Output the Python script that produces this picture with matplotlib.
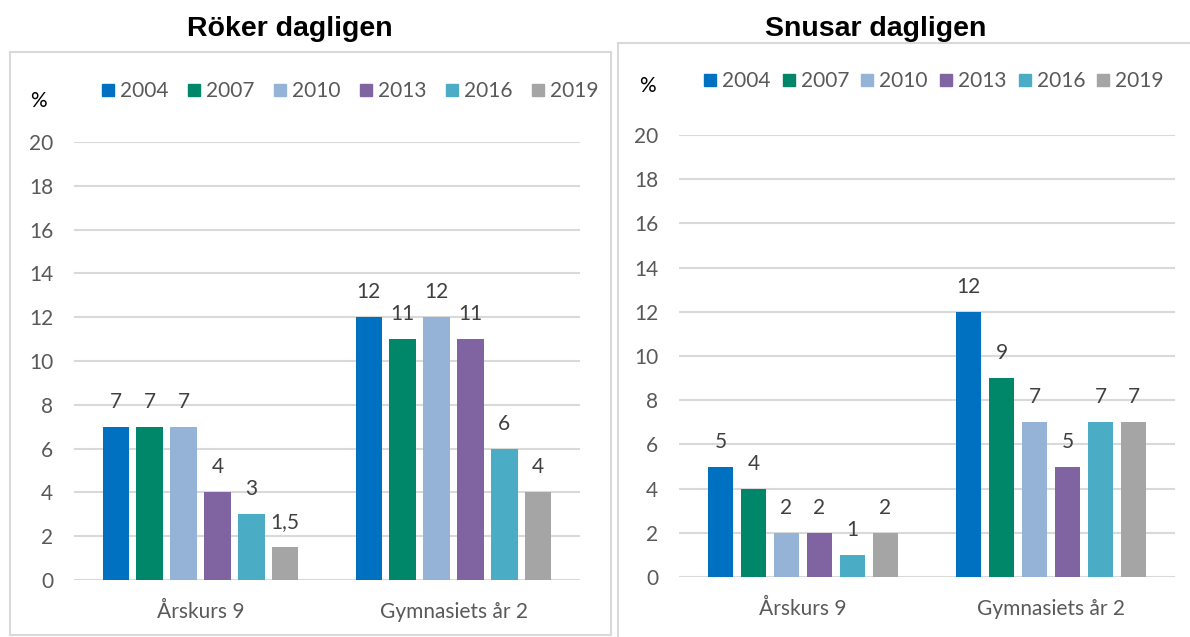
import matplotlib.pyplot as plt
from matplotlib.patches import Rectangle
from matplotlib.lines import Line2D
import numpy as np

# --- DATA ---
categories = ["Årskurs 9", "Gymnasiets år 2"]
years = ["2004", "2007", "2010", "2013", "2016", "2019"]
colors = ["#0070C0", "#00876A", "#95B3D7", "#8064A2", "#4BACC6", "#A5A5A5"]

roker_ak9 = [7, 7, 7, 4, 3, 1.5]
roker_gy2 = [12, 11, 12, 11, 6, 4]
snus_ak9 = [5, 4, 2, 2, 1, 2]
snus_gy2 = [12, 9, 7, 5, 7, 7]

yticks = [0, 2, 4, 6, 8, 10, 12, 14, 16, 18, 20]

W, H = 1190, 637
TICK_COLOR = "#595959"
LABEL_COLOR = "#404040"
GRID_COLOR = "#d9d9d9"
FONT = "Lato"
FS = 15


def fmt(v):
    s = f"{v:g}"
    return s.replace(".", ",")


def draw_panel(fig, rect_px, ak9, gy2, step):
    x0, x1, y_top, y_zero = rect_px
    ax = fig.add_axes([x0 / W, 1 - y_zero / H, (x1 - x0) / W, (y_zero - y_top) / H])
    x = np.arange(len(categories))
    width = 0.104
    for i, year in enumerate(years):
        vals = [ak9[i], gy2[i]]
        pos = x + (i - 2.5) * step
        ax.bar(pos, vals, width=width, color=colors[i], zorder=3, label=year)
        for p, v in zip(pos, vals):
            ax.annotate(fmt(v), (p, v), xytext=(0, 18), textcoords="offset points",
                        ha="center", va="center", fontsize=FS, color=LABEL_COLOR,
                        family=FONT)
    ax.set_xlim(-0.5, 1.5)
    ax.set_ylim(0, 20)
    ax.set_yticks(yticks)
    ax.set_xticks(x)
    ax.set_xticklabels(categories)
    ax.yaxis.grid(True, color=GRID_COLOR, linewidth=1.5, zorder=0)
    ax.set_axisbelow(True)
    for s in ax.spines.values():
        s.set_visible(False)
    ax.tick_params(axis="both", length=0, labelsize=FS, labelcolor=TICK_COLOR)
    ax.tick_params(axis="y", pad=15)
    ax.tick_params(axis="x", pad=16)
    for lab in ax.get_xticklabels() + ax.get_yticklabels():
        lab.set_family(FONT)
    return ax


def add_legend(fig, ax, cx, cy, colspace):
    handles = [Line2D([], [], marker="s", linestyle="none", markersize=8,
                      markerfacecolor=c, markeredgecolor=c) for c in colors]
    leg = ax.legend(handles, years, loc="center", bbox_to_anchor=(cx / W, 1 - cy / H),
                    bbox_transform=fig.transFigure, ncol=6, frameon=False,
                    handlelength=0.55, handletextpad=0.3, columnspacing=colspace,
                    prop={"family": FONT, "size": FS})
    for t in leg.get_texts():
        t.set_color(TICK_COLOR)


def add_box(fig, x0, y0, x1, y1):
    fig.add_artist(Rectangle((x0 / W, 1 - y1 / H), (x1 - x0) / W, (y1 - y0) / H,
                             transform=fig.transFigure, fill=False,
                             edgecolor=GRID_COLOR, linewidth=1.5))


fig = plt.figure(figsize=(W / 100, H / 100), dpi=100)

add_box(fig, 10, 52, 611, 635)
add_box(fig, 618, 43, 1195, 645)

ax1 = draw_panel(fig, (74, 580, 142, 580), roker_ak9, roker_gy2, 0.134)
ax2 = draw_panel(fig, (679, 1175, 135, 577), snus_ak9, snus_gy2, 0.133)

add_legend(fig, ax1, 350, 91, 0.95)
add_legend(fig, ax2, 934, 81, 0.6)

fig.text(290 / W, 1 - 29 / H, "Röker dagligen", ha="center", va="center",
         fontsize=20.5, fontweight="bold", family="Liberation Sans")
fig.text(876 / W, 1 - 29 / H, "Snusar dagligen", ha="center", va="center",
         fontsize=20.5, fontweight="bold", family="Liberation Sans")

fig.text(38 / W, 1 - 101 / H, "%", ha="center", va="center", fontsize=FS, family=FONT)
fig.text(647 / W, 1 - 86 / H, "%", ha="center", va="center", fontsize=FS, family=FONT)

fig.savefig("out.png", dpi=100)
